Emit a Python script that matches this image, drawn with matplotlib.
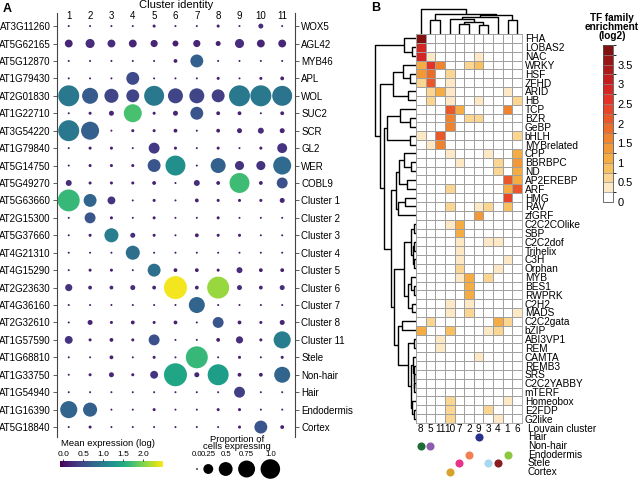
import numpy as np
import matplotlib
matplotlib.use('Agg')
import matplotlib.pyplot as plt
import matplotlib.cm as cm
from matplotlib.colors import LinearSegmentedColormap, ListedColormap, BoundaryNorm, Normalize

plt.rcParams['font.family'] = ['Liberation Sans', 'DejaVu Sans']

# ---- panel A data ----
genes = ['AT3G11260', 'AT5G62165', 'AT5G12870', 'AT1G79430', 'AT2G01830', 'AT1G22710',
         'AT3G54220', 'AT1G79840', 'AT5G14750', 'AT5G49270', 'AT5G63660', 'AT2G15300',
         'AT5G37660', 'AT4G21310', 'AT4G15290', 'AT2G23630', 'AT4G36160', 'AT2G32610',
         'AT1G57590', 'AT1G68810', 'AT1G33750', 'AT1G54940', 'AT1G16390', 'AT5G18840']
markers = ['WOX5', 'AGL42', 'MYB46', 'APL', 'WOL', 'SUC2', 'SCR', 'GL2', 'WER', 'COBL9',
           'Cluster 1', 'Cluster 2', 'Cluster 3', 'Cluster 4', 'Cluster 5', 'Cluster 6',
           'Cluster 7', 'Cluster 8', 'Cluster 11', 'Stele', 'Non-hair', 'Hair',
           'Endodermis', 'Cortex']
clusters = ['1', '2', '3', '4', '5', '6', '7', '8', '9', '10', '11']

# proportion of cells expressing
prop = [
    [0, 0, 0, 0, 0.01, 0, 0, 0.01, 0, 0.04, 0],
    [0.11, 0.15, 0.11, 0.11, 0.09, 0.06, 0.09, 0.04, 0.15, 0.11, 0.11],
    [0, 0, 0, 0, 0, 0.02, 0.31, 0, 0, 0, 0],
    [0, 0, 0, 0.31, 0, 0, 0, 0.01, 0, 0.01, 0.02],
    [0.83, 0.48, 0.37, 0.31, 0.75, 0.42, 0.42, 0.31, 0.83, 0.83, 0.75],
    [0, 0.01, 0.04, 0.61, 0.01, 0.04, 0.31, 0.02, 0.02, 0, 0.02],
    [0.83, 0.61, 0, 0.01, 0.01, 0.02, 0, 0.02, 0.04, 0.06, 0.04],
    [0, 0.01, 0.01, 0, 0.22, 0.01, 0, 0.01, 0, 0.01, 0.18],
    [0, 0.01, 0.01, 0.01, 0.31, 0.75, 0, 0.42, 0.15, 0.15, 0.61],
    [0.06, 0.01, 0.01, 0.01, 0.02, 0, 0.06, 0.02, 0.75, 0.02, 0.22],
    [0.91, 0.31, 0.11, 0, 0.01, 0, 0.02, 0.01, 0.01, 0.01, 0.04],
    [0, 0.22, 0.01, 0, 0.01, 0, 0, 0.01, 0, 0, 0],
    [0, 0.01, 0.37, 0.04, 0.01, 0, 0.02, 0.01, 0.01, 0, 0],
    [0, 0, 0, 0.37, 0, 0, 0, 0, 0, 0, 0],
    [0, 0.01, 0.01, 0, 0.31, 0.02, 0.02, 0.01, 0.06, 0.02, 0.02],
    [0.09, 0.02, 0.02, 0.04, 0.02, 1.0, 0.02, 0.91, 0.04, 0.02, 0.04],
    [0, 0, 0, 0, 0, 0, 0.48, 0, 0, 0, 0],
    [0, 0.04, 0.01, 0.02, 0.01, 0.02, 0, 0.22, 0.02, 0.01, 0.04],
    [0.11, 0.01, 0.02, 0.01, 0.22, 0, 0, 0.02, 0.09, 0.01, 0.55],
    [0, 0, 0.02, 0, 0.01, 0, 0.91, 0, 0.01, 0, 0.01],
    [0, 0.01, 0.04, 0.01, 0.11, 1.0, 0.04, 0.83, 0.02, 0.02, 0.48],
    [0, 0, 0, 0, 0, 0, 0, 0, 0.22, 0, 0],
    [0.55, 0.37, 0, 0, 0.01, 0, 0, 0.01, 0.01, 0, 0],
    [0, 0.01, 0, 0, 0, 0, 0, 0, 0.01, 0.31, 0.02],
]

# mean expression (log)
expr = [
    [0.1, 0.1, 0.1, 0.1, 0.15, 0.1, 0.1, 0.15, 0.1, 0.25, 0.1],
    [0.2, 0.25, 0.25, 0.2, 0.2, 0.15, 0.2, 0.15, 0.25, 0.2, 0.2],
    [0.1, 0.1, 0.1, 0.1, 0.1, 0.15, 0.7, 0.1, 0.1, 0.1, 0.1],
    [0.1, 0.1, 0.1, 0.5, 0.1, 0.1, 0.1, 0.15, 0.1, 0.15, 0.15],
    [0.95, 0.65, 0.45, 0.45, 0.95, 0.45, 0.45, 0.4, 0.95, 0.95, 0.9],
    [0.1, 0.15, 0.2, 1.75, 0.15, 0.2, 0.6, 0.15, 0.15, 0.1, 0.15],
    [0.95, 0.7, 0.1, 0.15, 0.15, 0.15, 0.1, 0.15, 0.2, 0.25, 0.2],
    [0.1, 0.15, 0.15, 0.1, 0.35, 0.15, 0.1, 0.15, 0.1, 0.15, 0.3],
    [0.1, 0.15, 0.15, 0.15, 0.6, 1.2, 0.1, 0.7, 0.3, 0.3, 0.8],
    [0.25, 0.15, 0.15, 0.15, 0.15, 0.1, 0.25, 0.15, 1.7, 0.15, 0.55],
    [1.65, 0.75, 0.3, 0.1, 0.15, 0.1, 0.15, 0.15, 0.15, 0.15, 0.2],
    [0.1, 0.6, 0.15, 0.1, 0.15, 0.1, 0.1, 0.15, 0.1, 0.1, 0.1],
    [0.1, 0.15, 1.0, 0.25, 0.15, 0.1, 0.15, 0.15, 0.15, 0.1, 0.1],
    [0.1, 0.1, 0.1, 0.85, 0.1, 0.1, 0.1, 0.1, 0.1, 0.1, 0.1],
    [0.1, 0.15, 0.15, 0.1, 0.85, 0.15, 0.15, 0.15, 0.25, 0.15, 0.15],
    [0.3, 0.2, 0.2, 0.25, 0.2, 2.45, 0.2, 2.1, 0.25, 0.2, 0.25],
    [0.1, 0.1, 0.1, 0.1, 0.1, 0.1, 0.75, 0.1, 0.1, 0.1, 0.1],
    [0.1, 0.2, 0.15, 0.15, 0.15, 0.15, 0.1, 0.6, 0.15, 0.15, 0.2],
    [0.3, 0.15, 0.15, 0.15, 0.55, 0.1, 0.1, 0.15, 0.25, 0.15, 1.0],
    [0.1, 0.1, 0.15, 0.1, 0.15, 0.1, 1.65, 0.1, 0.15, 0.1, 0.15],
    [0.1, 0.15, 0.2, 0.15, 0.3, 1.45, 0.2, 1.35, 0.15, 0.15, 0.75],
    [0.1, 0.1, 0.1, 0.1, 0.1, 0.1, 0.1, 0.1, 0.4, 0.1, 0.1],
    [0.75, 0.7, 0.1, 0.1, 0.15, 0.1, 0.1, 0.15, 0.15, 0.1, 0.1],
    [0.1, 0.15, 0.1, 0.1, 0.1, 0.1, 0.1, 0.1, 0.15, 0.6, 0.15],
]

expr_ticks = [0.0, 0.5, 1.0, 1.5, 2.0]
prop_legend = [0.0, 0.25, 0.5, 0.75, 1.0]

# ---- panel B data ----
louvain_order = ['8', '5', '11', '10', '7', '2', '9', '3', '4', '1', '6']
tf_families = ['FHA', 'LOBAS2', 'NAC', 'WRKY', 'HSF', 'ZFHD', 'ARID', 'HB', 'TCP', 'BZR',
               'GeBP', 'bHLH', 'MYBrelated', 'CPP', 'BBRBPC', 'ND', 'AP2EREBP', 'ARF', 'HMG',
               'RAV', 'zfGRF', 'C2C2COlike', 'SBP', 'C2C2dof', 'Trihelix', 'C3H', 'Orphan',
               'MYB', 'BES1', 'RWPRK', 'C2H2', 'MADS', 'C2C2gata', 'bZIP', 'ABI3VP1', 'REM',
               'CAMTA', 'REMB3', 'SRS', 'C2C2YABBY', 'mTERF', 'Homeobox', 'E2FDP', 'G2like']
enrich = [
    [3.8, 0, 0, 0, 0, 0, 0, 0, 0, 0, 0],
    [2.8, 0, 0, 0, 0, 0, 0, 0, 0, 0, 0],
    [2.9, 0.3, 0, 0, 0, 0, 0.3, 0, 0, 0, 0],
    [1.1, 2.7, 1.6, 0, 0, 0.7, 0.9, 0, 0, 0, 0],
    [1.3, 1.8, 0, 0.5, 0, 0, 0, 0, 0, 0, 0],
    [0.6, 2.2, 0, 0.3, 0, 0, 0, 0, 0, 0, 0],
    [0, 0.7, 1.0, 0.3, 0, 0, 0, 0, 0, 0.3, 0],
    [0, 0.6, 0, 0.3, 0, 0, 0.3, 0, 0, 0, 0.5],
    [0, 0, 0, 2.0, 1.1, 0, 0, 0, 0, 1.5, 0],
    [0, 0, 0, 1.6, 0, 0.5, 0.5, 0, 0, 0, 0],
    [0, 0, 0, 1.6, 0, 0, 0, 0, 0, 0, 0],
    [0.3, 0, 2.1, 0, 0, 0, 0, 0, 0, 0, 0.5],
    [0, 0.3, 1.6, 0, 0, 0, 0, 0, 0, 0, 0],
    [0, 0, 0, 0.3, 0, 0, 0, 0.3, 0, 0, 1.2],
    [0, 0, 0, 0, 0.3, 0, 0, 0, 0.6, 0, 1.3],
    [0, 0, 0, 0, 0, 0, 0, 0, 0.6, 0, 1.1],
    [0, 0, 0, 0, 0, 0, 0, 0, 0, 2.0, 1.0],
    [0, 0, 0, 0.6, 0, 0, 0, 0, 0, 1.1, 2.0],
    [0, 0, 0, 0, 0, 0, 0, 0, 0, 2.3, 0],
    [0, 0, 0, 0.6, 0, 0, 0.3, 0.6, 0, 0.8, 0],
    [0, 0, 0, 0, 0, 0, 1.4, 0, 0, 0, 0],
    [0, 0, 0, 0.3, 1.1, 0, 0, 0, 0, 0, 0],
    [0, 0, 0, 0, 1.1, 0, 0, 0, 0, 0, 0],
    [0, 0, 0, 0, 0.35, 0, 0, 0.3, 0.3, 0, 0],
    [0, 0, 0, 0, 0.4, 0, 0, 0, 0, 0, 0],
    [0, 0, 0, 0, 0.4, 0, 0, 0, 0, 0.3, 0],
    [0, 0, 0, 0, 0.6, 0, 0, 0, 0.3, 0, 0],
    [0, 0, 0, 0, 0.3, 1.1, 0, 0.6, 0, 0, 0],
    [0, 0, 0, 0, 0, 1.0, 0, 0, 0, 0, 0],
    [0, 0, 0, 0, 0, 1.1, 0, 0, 0, 0, 0],
    [0, 0, 0, 0.4, 0, 0.4, 0, 0, 0, 0, 0],
    [0, 0, 0, 0.3, 0, 0.5, 0, 0, 0, 0, 0.3],
    [0, 0.6, 0, 0, 0, 0, 0, 0, 1.0, 0.7, 0],
    [1.0, 0, 0, 0.9, 0, 0, 0, 0.3, 0.6, 0, 0],
    [0, 0, 0.35, 0, 0, 0, 0, 0, 0, 0, 0],
    [0, 0, 0.35, 0, 0, 0, 0, 0, 0, 0, 0],
    [0, 0, 0, 0, 0, 0, 0.3, 0, 0, 0, 0],
    [0, 0, 0, 0, 0, 0, 0, 0, 0, 0, 0],
    [0, 0, 0, 0, 0, 0, 0, 0, 0, 0, 0],
    [0, 0, 0, 0, 0, 0, 0, 0, 0, 0, 0],
    [0, 0, 0, 0, 0, 0, 0, 0, 0, 0, 0],
    [0, 0, 0, 0.5, 0, 0, 0, 0, 0, 0.3, 0],
    [0, 0, 0, 0.6, 0, 0, 0, 0.7, 0, 0, 0],
    [0, 0, 0, 0.7, 0, 0, 0, 0, 0.35, 0, 0],
]
enrich_ticks = [0, 0.5, 1, 1.5, 2, 2.5, 3, 3.5]

# dendrograms: (height, left, right)
col_tree = (1.0, '8', (0.82, (0.55, '5', '11'),
                       (0.78, (0.68, (0.6, '10', (0.5, (0.42, '7', '2'), (0.35, '9', '3'))), '4'),
                        (0.55, '1', '6'))))
row_tree = (1.0,
            (0.29, 'FHA', (0.1, 'LOBAS2', 'NAC')),
            (0.88,
             (0.56, (0.32, 'WRKY', (0.15, 'HSF', 'ZFHD')), (0.2, 'ARID', 'HB')),
             (0.78,
              (0.7, (0.39, 'TCP', (0.15, 'BZR', 'GeBP')), (0.15, 'bHLH', 'MYBrelated')),
              (0.6,
               (0.5, (0.42, (0.3, 'CPP', (0.12, 'BBRBPC', 'ND')), (0.22, 'AP2EREBP', 'ARF')),
                (0.45, (0.27, 'HMG', 'RAV'), 'zfGRF')),
               (0.55,
                (0.3, (0.12, (0.05, 'C2C2COlike', 'SBP'),
                       (0.08, (0.05, 'C2C2dof', 'Trihelix'), (0.05, 'C3H', 'Orphan'))),
                 (0.2, (0.12, 'MYB', (0.06, 'BES1', 'RWPRK')), (0.1, 'C2H2', 'MADS'))),
                (0.45, (0.35, 'C2C2gata', 'bZIP'),
                 (0.2, (0.04, 'ABI3VP1', 'REM'),
                  (0.12, (0.08, 'CAMTA', (0.06, 'REMB3', (0.05, 'SRS', (0.04, 'C2C2YABBY', 'mTERF')))),
                   (0.1, 'Homeobox', (0.05, 'E2FDP', 'G2like'))))))))))

cell_types = ['Hair', 'Non-hair', 'Endodermis', 'Stele', 'Cortex']
type_clusters = [['9'], ['8', '5'], ['2', '1'], ['7', '3', '4'], ['10']]
type_colors = [['#27318b'], ['#1e6b34', '#8c5cae'], ['#f07f52', '#8dc63f'],
               ['#e8338a', '#a8d8ef', '#8b1c1f'], ['#d8a22c']]

W, H = 640, 479


def rect(x0, y0, x1, y1):
    return [x0 / W, 1 - y1 / H, (x1 - x0) / W, (y1 - y0) / H]


def dot_d(p, scale=1.0):
    # diameter in px, area grows linearly with proportion
    return scale * np.sqrt(4 + 525 * np.asarray(p))


def draw_tree(ax, node, pos, orient):
    if isinstance(node, str):
        return pos[node], 0.0
    h, a, b = node
    xa, ha = draw_tree(ax, a, pos, orient)
    xb, hb = draw_tree(ax, b, pos, orient)
    u = [xa, xa, xb, xb]
    v = [ha, h, h, hb]
    if orient == 'top':
        ax.plot(u, v, color='black', lw=1.0, solid_capstyle='butt')
    else:
        ax.plot(v, u, color='black', lw=1.0, solid_capstyle='butt')
    return (xa + xb) / 2, h


fig = plt.figure(figsize=(6.4, 4.79), dpi=100)

# ================= panel A =================
ax = fig.add_axes(rect(57, 13, 295, 437))
P = np.array(prop)
E = np.array(expr)
nr, nc = P.shape
xx, yy = np.meshgrid(np.arange(1, nc + 1), np.arange(1, nr + 1))
norm_a = Normalize(-0.08, 2.5)
ax.scatter(xx.ravel(), yy.ravel(), s=(dot_d(P.ravel()) * 0.72) ** 2, c=E.ravel(),
           cmap='viridis', norm=norm_a, linewidths=0, zorder=3)
ax.set_xlim(0.45, 11.6)
ax.set_ylim(24.57, 0.25)
ax.set_xticks([])
ax.set_yticks(np.arange(1, nr + 1))
ax.set_yticklabels(genes, fontsize=7)
ax.tick_params(axis='y', length=3, width=0.6, color='#444', pad=1.5)
for s in ['top', 'bottom', 'right']:
    ax.spines[s].set_visible(False)
ax.spines['left'].set_color('#444')
ax.spines['left'].set_linewidth(0.8)

ax2 = ax.twinx()
ax2.set_ylim(ax.get_ylim())
ax2.set_yticks(np.arange(1, nr + 1))
ax2.set_yticklabels(markers, fontsize=7)
ax2.tick_params(axis='y', length=3, width=0.6, color='#444', pad=1.5)
for s in ['top', 'bottom', 'left']:
    ax2.spines[s].set_visible(False)
ax2.spines['right'].set_color('#444')
ax2.spines['right'].set_linewidth(0.8)

for j, c in enumerate(clusters):
    ax.text(j + 1, 0.993, c, transform=ax.get_xaxis_transform(), ha='center', va='center',
            fontsize=7)
fig.text(176 / W, 1 - 5 / H, 'Cluster identity', ha='center', va='center', fontsize=8)
fig.text(3 / W, 1 - 9 / H, 'A', ha='left', va='center', fontsize=9, fontweight='bold')

# colour legend
cax = fig.add_axes(rect(60, 461, 163, 467))
cb = fig.colorbar(cm.ScalarMappable(norm=norm_a, cmap='viridis'), cax=cax, orientation='horizontal')
cb.set_ticks(expr_ticks)
cb.set_ticklabels([f'{v:.1f}' for v in expr_ticks])
cb.ax.xaxis.set_ticks_position('top')
cb.ax.tick_params(labelsize=6, length=1.5, width=0.5, pad=1)
cb.outline.set_visible(False)
fig.text(108 / W, 1 - 444 / H, 'Mean expression (log)', ha='center', va='center', fontsize=6.8)

# size legend
lax = fig.add_axes(rect(185, 450, 290, 479))
lax.axis('off')
lax.set_xlim(185, 290)
lax.set_ylim(479, 450)
ld = dot_d(prop_legend, 0.85)
lx = [197.0]
for i in range(1, len(ld)):
    lx.append(lx[-1] + ld[i - 1] / 2 + ld[i] / 2 + 5.5)
lax.scatter(lx, [469] * len(lx), s=(ld * 0.72) ** 2, color='black', linewidths=0, clip_on=False)
for x, v in zip(lx, prop_legend):
    lax.text(x, 455, f'{v:g}' if v not in (0, 0.5, 1) else f'{v:.1f}', ha='center', va='center',
             fontsize=5.6)
fig.text(237 / W, 1 - 443 / H, 'Proportion of\ncells expressing', ha='center', va='center',
         fontsize=6.8, linespacing=0.85)

# ================= panel B =================
M = np.array(enrich)
bounds = np.arange(0, 4.01, 0.25)
base = LinearSegmentedColormap.from_list('enr', [
    (0, '#ffffff'), (0.25 / 4, '#fef3e0'), (0.6 / 4, '#fbd897'), (1.0 / 4, '#f6b648'),
    (1.5 / 4, '#f18f30'), (2.0 / 4, '#eb6127'), (2.6 / 4, '#e6332a'), (3.1 / 4, '#c71e1f'),
    (1.0, '#781010')])
centers = (bounds[:-1] + bounds[1:]) / 2
colors = base(centers / 4)
colors[0] = (1, 1, 1, 1)
cmap_b = ListedColormap(colors)
norm_b = BoundaryNorm(bounds, cmap_b.N)

hax = fig.add_axes(rect(416, 34, 522, 423))
hax.pcolormesh(M, cmap=cmap_b, norm=norm_b, edgecolors='#a0a0a0', linewidth=0.6)
hax.set_xlim(0, M.shape[1])
hax.set_ylim(M.shape[0], 0)
hax.set_xticks(np.arange(M.shape[1]) + 0.5)
hax.set_xticklabels(louvain_order, fontsize=7.2)
hax.set_yticks(np.arange(M.shape[0]) + 0.5)
hax.set_yticklabels(tf_families, fontsize=7.3)
hax.yaxis.tick_right()
hax.tick_params(length=0, pad=1)
hax.tick_params(axis='y', pad=2)
for s in hax.spines.values():
    s.set_color('#a0a0a0')
    s.set_linewidth(0.6)

# top dendrogram
tax = fig.add_axes(rect(416, 7, 522, 34))
draw_tree(tax, col_tree, {c: i + 0.5 for i, c in enumerate(louvain_order)}, 'top')
tax.set_xlim(0, len(louvain_order))
tax.set_ylim(0, 1.08)
tax.axis('off')

# left dendrogram
dax = fig.add_axes(rect(371, 34, 416, 423))
draw_tree(dax, row_tree, {f: i + 0.5 for i, f in enumerate(tf_families)}, 'left')
dax.set_ylim(len(tf_families), 0)
dax.set_xlim(1.1, 0)
dax.axis('off')

# colourbar
cbax = fig.add_axes(rect(603, 45, 613, 202))
cb2 = fig.colorbar(cm.ScalarMappable(norm=norm_b, cmap=cmap_b), cax=cbax, drawedges=True)
cb2.set_ticks(enrich_ticks)
cb2.set_ticklabels([f'{v:g}' for v in enrich_ticks])
cb2.ax.tick_params(labelsize=8, length=0, pad=3)
cb2.dividers.set_color('#8a8a8a')
cb2.dividers.set_linewidth(0.5)
cb2.outline.set_edgecolor('#555555')
cb2.outline.set_linewidth(0.6)
fig.text(612 / W, 1 - 13 / H, 'TF family\nenrichment\n(log2)', ha='center', va='top',
         fontsize=7.2, fontweight='bold', linespacing=0.85)
fig.text(371 / W, 1 - 8 / H, 'B', ha='left', va='center', fontsize=9, fontweight='bold')

# cluster annotation
aax = fig.add_axes(rect(416, 433, 522, 476))
aax.set_xlim(0, len(louvain_order))
aax.set_ylim(len(cell_types), 0)
aax.axis('off')
for i, (name, cl, cols) in enumerate(zip(cell_types, type_clusters, type_colors)):
    for c, col in zip(cl, cols):
        aax.scatter(louvain_order.index(c) + 0.5, i + 0.5, s=34, color=col, linewidths=0,
                    clip_on=False)
    aax.text(11.6, i + 0.5, name, ha='left', va='center', fontsize=7.3)
aax.text(11.6, -0.5, 'Louvain cluster', ha='left', va='center', fontsize=7.3)

fig.savefig('out.png', dpi=100)
